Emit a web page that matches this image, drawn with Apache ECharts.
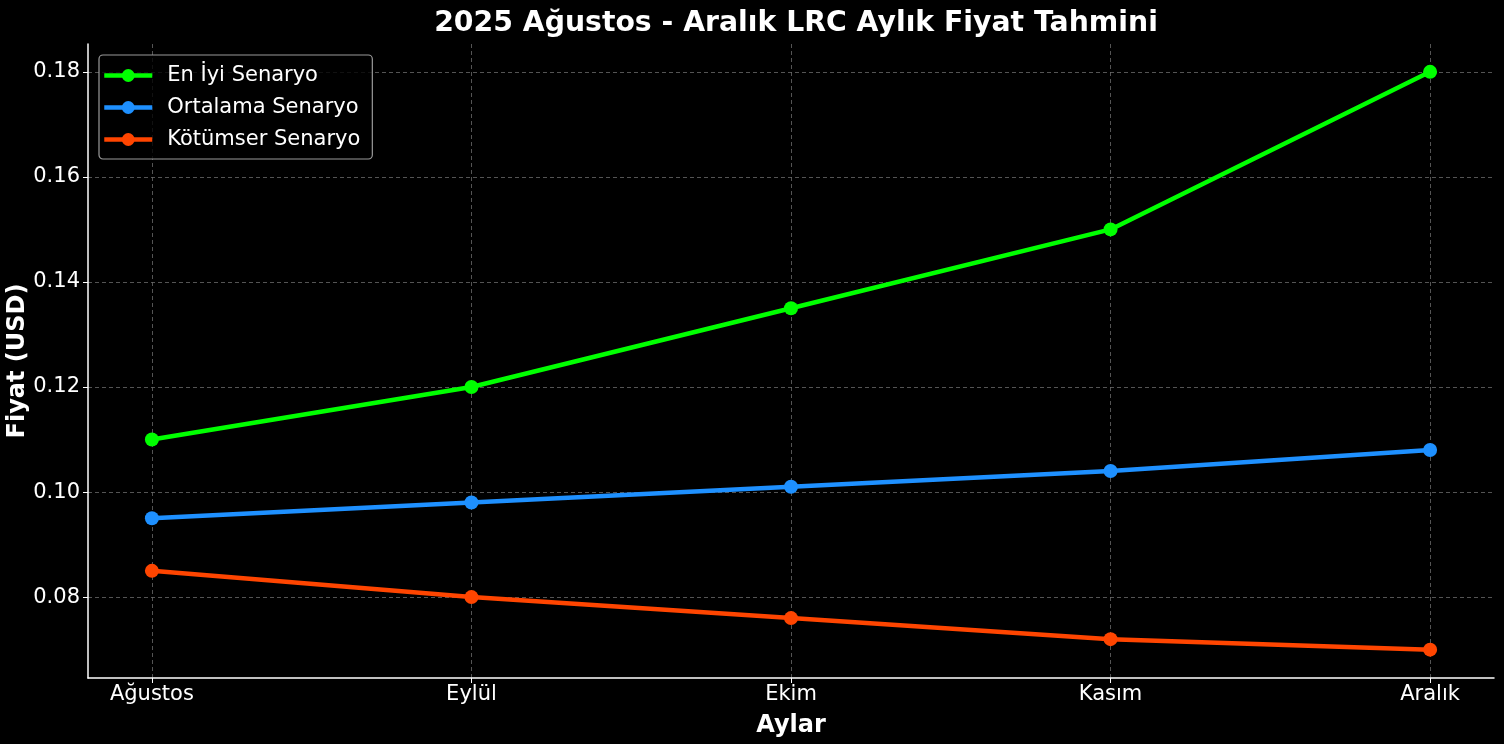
<!DOCTYPE html>
<html>
<head>
<meta charset="utf-8">
<title>LRC Fiyat Tahmini</title>
<script src="https://cdn.jsdelivr.net/npm/echarts@6/dist/echarts.min.js"></script>
<style>
  html, body { margin: 0; padding: 0; background: #000; }
  #chart { width: 1504px; height: 744px; }
</style>
</head>
<body>
<div id="chart"></div>
<script>
var months = ['Ağustos', 'Eylül', 'Ekim', 'Kasım', 'Aralık'];
var bestCase = [0.11, 0.12, 0.135, 0.15, 0.18];
var avgCase = [0.095, 0.098, 0.101, 0.104, 0.108];
var worstCase = [0.085, 0.08, 0.076, 0.072, 0.07];
var yTicks = [0.08, 0.10, 0.12, 0.14, 0.16, 0.18];

var font = 'DejaVu Sans';

function toPoints(arr) {
  return arr.map(function (v, i) { return [i, v]; });
}

function lineSeries(name, data, color) {
  return {
    name: name,
    type: 'line',
    data: toPoints(data),
    symbol: 'circle',
    symbolSize: 14,
    lineStyle: { width: 4.5, color: color },
    itemStyle: { color: color },
    emphasis: { disabled: true },
    animation: false
  };
}

var myChart = echarts.init(document.getElementById('chart'));
var gridLine = { show: true, lineStyle: { color: '#6a6a6a', type: [4, 3], width: 0.8 } };

var option = {
  backgroundColor: '#000',
  textStyle: { fontFamily: font },
  title: {
    text: '2025 Ağustos - Aralık LRC Aylık Fiyat Tahmini',
    left: 791,
    textAlign: 'center',
    top: 5,
    textStyle: { color: '#fff', fontSize: 28.3, fontWeight: 'bold', fontFamily: font }
  },
  legend: {
    orient: 'vertical',
    left: 99,
    top: 55,
    padding: [10, 12, 9, 3],
    itemWidth: 48,
    itemHeight: 16,
    itemGap: 11,
    backgroundColor: 'rgba(0,0,0,0.8)',
    borderColor: '#9a9a9a',
    borderWidth: 1.2,
    borderRadius: 4,
    lineStyle: { width: 4.5 },
    textStyle: { color: '#fff', fontSize: 21, fontFamily: font, padding: [0, 0, 0, 10] },
    data: ['En İyi Senaryo', 'Ortalama Senaryo', 'Kötümser Senaryo']
  },
  grid: { left: 88, right: 10, top: 44, bottom: 66, containLabel: false, outerBoundsMode: 'none' },
  xAxis: {
    type: 'value',
    min: -0.2,
    max: 4.2,
    name: 'Aylar',
    nameLocation: 'middle',
    nameGap: 36,
    nameMoveOverlap: false,
    nameTextStyle: { color: '#fff', fontSize: 24, fontWeight: 'bold', fontFamily: font },
    axisLine: { show: true, onZero: false, lineStyle: { color: '#fff', width: 1.5 } },
    axisTick: { show: true, length: 5, customValues: [0, 1, 2, 3, 4], lineStyle: { color: '#fff' } },
    axisLabel: {
      customValues: [0, 1, 2, 3, 4],
      color: '#fff',
      fontSize: 21,
      margin: 6,
      formatter: function (v) { return months[Math.round(v)]; }
    },
    splitLine: gridLine
  },
  yAxis: {
    type: 'value',
    min: 0.0646,
    max: 0.1853,
    name: 'Fiyat (USD)',
    nameLocation: 'middle',
    nameRotate: 90,
    nameGap: 58,
    nameMoveOverlap: false,
    nameTextStyle: { color: '#fff', fontSize: 24, fontWeight: 'bold', fontFamily: font },
    axisLine: { show: true, onZero: false, lineStyle: { color: '#fff', width: 1.5 } },
    axisTick: { show: true, length: 5, customValues: yTicks, lineStyle: { color: '#fff' } },
    axisLabel: {
      customValues: yTicks,
      color: '#fff',
      fontSize: 21,
      margin: 8,
      lineHeight: 28,
      verticalAlign: 'middle',
      padding: [5, 0, 0, 0],
      formatter: function (v) { return v.toFixed(2); }
    },
    splitLine: gridLine
  },
  series: [
    lineSeries('En İyi Senaryo', bestCase, '#00ff00'),
    lineSeries('Ortalama Senaryo', avgCase, '#1e90ff'),
    lineSeries('Kötümser Senaryo', worstCase, '#ff4500')
  ]
};
myChart.setOption(option);
</script>
</body>
</html>
